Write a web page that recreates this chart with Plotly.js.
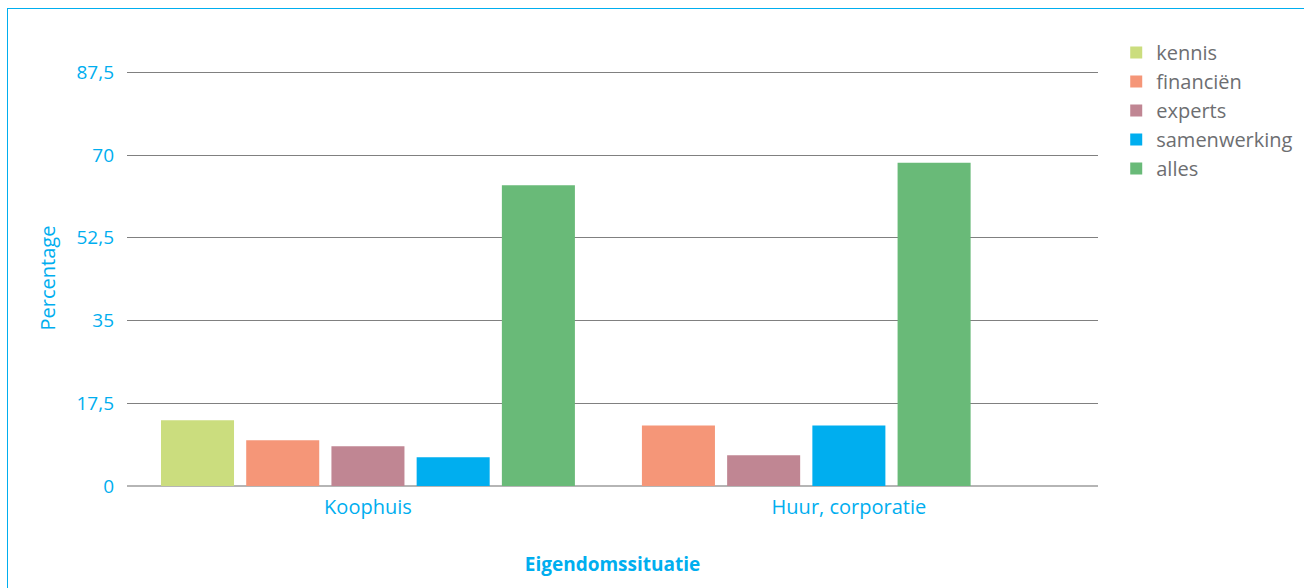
<!DOCTYPE html>
<html>
<head>
<meta charset="utf-8">
<script src="https://cdn.plot.ly/plotly-3.0.1.min.js"></script>
<style>
  html, body { margin: 0; padding: 0; background: #ffffff; }
  #chart { position: absolute; left: 0; top: 0; width: 1304px; height: 588px; }
  #frame { position: absolute; left: 7px; top: 8px; width: 1310px; height: 600px;
           border: 1.5px solid #00aeef; box-sizing: border-box; pointer-events: none; }
</style>
</head>
<body>
<div id="chart"></div>
<div id="frame"></div>
<script>
// ---- data ----
const categories = ['Koophuis', 'Huur, corporatie'];
const seriesNames = ['kennis', 'financiën', 'experts', 'samenwerking', 'alles'];
const kennis = [13.9, null];
const financien = [9.7, 12.8];
const experts = [8.4, 6.5];
const samenwerking = [6.1, 12.8];
const alles = [63.6, 68.4];
const yTickVals = [0, 17.5, 35, 52.5, 70, 87.5];
const yTickText = ['0', '17,5', '35', '52,5', '70', '87,5'];

// ---- styles ----
const seriesColors = ['#cbdd7e', '#f59678', '#c08693', '#00aeef', '#69ba78'];
const seriesValues = [kennis, financien, experts, samenwerking, alles];
const cyan = '#00aeef';
const fontFamily = '"Open Sans", Lato, sans-serif';

// bars are packed per category (missing values leave no gap)
const traces = [];
const shown = {};
categories.forEach((cat, ci) => {
  let rank = 0;
  seriesNames.forEach((name, si) => {
    const v = seriesValues[si][ci];
    if (v === null || v === undefined) return;
    traces.push({
      type: 'bar',
      x: [cat],
      y: [v],
      name: name,
      legendgroup: name,
      showlegend: !shown[name],
      offsetgroup: String(rank),
      alignmentgroup: 'all',
      marker: { color: seriesColors[si], line: { width: 0 } },
      hoverinfo: 'x+y+name'
    });
    shown[name] = true;
    rank++;
  });
});

const layout = {
  width: 1304,
  height: 588,
  margin: { l: 127, r: 206, t: 70, b: 102, autoexpand: false },
  paper_bgcolor: 'rgba(0,0,0,0)',
  plot_bgcolor: '#ffffff',
  barmode: 'group',
  bargap: 0.114,
  bargroupgap: 0.143,
  font: { family: fontFamily, color: cyan },
  xaxis: {
    type: 'category',
    categoryorder: 'array',
    categoryarray: categories,
    range: [-0.501, 1.518],
    showgrid: false,
    showline: false,
    zeroline: false,
    ticks: '',
    tickfont: { size: 20, color: cyan, family: fontFamily },
    ticklabelstandoff: 7,
    automargin: false,
    title: {
      text: '<b>Eigendomssituatie</b>',
      font: { size: 19, color: cyan, family: fontFamily },
      standoff: 38
    }
  },
  yaxis: {
    range: [0, 88],
    tickvals: yTickVals,
    ticktext: yTickText,
    showgrid: true,
    gridcolor: '#808080',
    gridwidth: 1,
    zeroline: true,
    zerolinecolor: '#b5b5b5',
    zerolinewidth: 2,
    showline: false,
    ticks: '',
    ticklabelstandoff: 12,
    tickfont: { size: 19, color: cyan, family: fontFamily },
    automargin: false,
    title: {
      text: 'Percentage',
      font: { size: 20, color: cyan, family: fontFamily },
      standoff: 15
    }
  },
  legend: {
    xref: 'container',
    yref: 'container',
    x: 0.856,
    y: 0.944,
    xanchor: 'left',
    yanchor: 'top',
    traceorder: 'normal',
    font: { size: 20, color: '#6d6e71', family: fontFamily },
    bgcolor: 'rgba(0,0,0,0)'
  },
  showlegend: true
};

Plotly.newPlot('chart', traces, layout, { displayModeBar: false, staticPlot: true });
</script>
</body>
</html>
